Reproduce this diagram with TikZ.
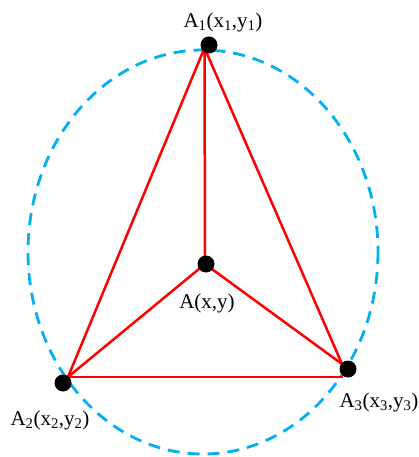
\documentclass[tikz,border=0pt]{standalone}
\usepackage{fontspec}
\setmainfont{Liberation Serif}
\definecolor{ellblue}{RGB}{0,176,240}
\begin{document}
\begin{tikzpicture}[x=1pt,y=-1pt,
  dot/.style={circle,fill=black,inner sep=0pt,minimum size=17pt},
  redline/.style={draw=red,line width=2.5pt},
  lbl/.style={font=\fontsize{21}{23}\selectfont,inner sep=0pt}]
\useasboundingbox (0,0) rectangle (418,457);
\draw[ellblue,line width=2.8pt,dash pattern=on 12pt off 8pt] (203,252) ellipse [x radius=175,y radius=202];
\coordinate (T) at (204.5,48);
\coordinate (L) at (68,377);
\coordinate (R1) at (342,364);
\coordinate (R2) at (343,377);
\coordinate (C) at (205,264);
\draw[redline] (T) -- (L);
\draw[redline] (T) -- (R1);
\draw[redline] (T) -- (C);
\draw[redline] (C) -- (L);
\draw[redline] (C) -- (R1);
\draw[redline] (L) -- (R2);
\node[dot] (a1) at (209,45) {};
\node[dot] (a) at (206,264) {};
\node[dot] (a2) at (63,383) {};
\node[dot] (a3) at (348,369) {};
\node[lbl] (l1) at (223,22) {A\textsubscript{1}(x\textsubscript{1},y\textsubscript{1})};
\node[lbl] (l) at (207,303) {A(x,y)};
\node[lbl] (l2) at (50,420) {A\textsubscript{2}(x\textsubscript{2},y\textsubscript{2})};
\node[lbl] (l3) at (379,402) {A\textsubscript{3}(x\textsubscript{3},y\textsubscript{3})};
\end{tikzpicture}
\end{document}
